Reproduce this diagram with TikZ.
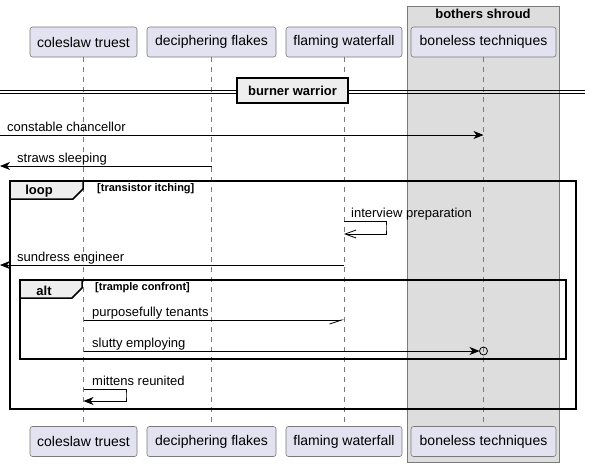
\documentclass[tikz,border=0pt]{standalone}
\usepackage{fontspec}
\setmainfont{Liberation Sans}
\usetikzlibrary{arrows.meta}
\definecolor{partfill}{HTML}{E2E2F0}
\definecolor{partline}{HTML}{7A7A7A}
\definecolor{shroudfill}{HTML}{DDDDDD}
\definecolor{tabfill}{HTML}{EEEEEE}

\begin{document}
\begin{tikzpicture}[x=1pt, y=-1pt,
    part/.style={draw=partline, line width=0.6pt, fill=partfill, rounded corners=2.5pt,
      minimum height=30pt, inner sep=0pt, font=\fontsize{14}{16}\selectfont},
    msg/.style={anchor=base west, inner sep=0pt, font=\fontsize{13}{15}\selectfont},
    grp/.style={anchor=base, inner sep=0pt, font=\bfseries\fontsize{13}{15}\selectfont},
    guard/.style={anchor=base west, inner sep=0pt, font=\bfseries\fontsize{11}{13}\selectfont},
    lifeline/.style={draw=partline, line width=0.6pt, dash pattern=on 5pt off 5pt},
    frame/.style={line width=1.5pt},
    rule/.style={line width=0.9pt},
    call/.style={line width=0.8pt, -{Stealth[length=10pt, width=8pt, inset=3pt]}},
    async/.style={line width=0.8pt, -{Straight Barb[length=11pt, width=8pt]}},
    halfcall/.style={line width=0.8pt, -{Straight Barb[right, length=12pt, width=8pt]}}]
  \useasboundingbox (0,0) rectangle (591,467);
%  \draw [help lines, opacity=0.5, step=50] (0,0) grid (591,467);

  % box round the last participant
  \draw [draw=partline, line width=0.8pt, fill=shroudfill] (407,6) rectangle (559,462);
  \node [grp] (shroud) at (483,18) {bothers shroud};

  % participants, top and bottom
  \node [part, minimum width=107pt] (ct) at (83.5,42) {coleslaw truest};
  \node [part, minimum width=129pt] (df) at (211.5,42) {deciphering flakes};
  \node [part, minimum width=116pt] (fw) at (344,42) {flaming waterfall};
  \node [part, minimum width=145pt] (bt) at (483.5,42) {boneless techniques};
  \node [part, minimum width=107pt] (ctb) at (83.5,441.5) {coleslaw truest};
  \node [part, minimum width=129pt] (dfb) at (211.5,441.5) {deciphering flakes};
  \node [part, minimum width=116pt] (fwb) at (344,441.5) {flaming waterfall};
  \node [part, minimum width=145pt] (btb) at (483.5,441.5) {boneless techniques};
  \foreach \p in {ct, df, fw, bt}
    \draw [lifeline] (\p.south) -- (\p b.north);

  % groups
  \draw [frame] (10,181) rectangle (576,409);
  \draw [frame, fill=tabfill] (10,181) -- (83,181) -- (83,189) -- (73,199) -- (10,199) -- cycle;
  \node [grp] (loop) at (39,194) {loop};
  \node [guard] (loopg) at (97,191) {[transistor itching]};
  \draw [frame] (20,280) rectangle (566,359);
  \draw [frame, fill=tabfill] (20,280) -- (82,280) -- (82,288) -- (72,298) -- (20,298) -- cycle;
  \node [grp] (alt) at (44,295) {alt};
  \node [guard] (altg) at (95,290) {[trample confront]};

  % divider
  \node [draw, line width=1.5pt, fill=tabfill, minimum width=111pt, minimum height=25pt,
    inner sep=0pt, font=\bfseries\fontsize{13}{15}\selectfont] (burner) at (292.5,90.5) {burner warrior};
  \foreach \y in {90, 93} {
    \coordinate (dvl) at (0,\y);
    \coordinate (dvr) at (585,\y);
    \draw [rule] (dvl) -- (dvl -| burner.west);
    \draw [rule] (dvr -| burner.east) -- (dvr);
  }

  % messages
  \coordinate (cc) at (0,135);
  \draw [call] (cc) -- (bt |- cc);
  \node [msg] (ccl) at (7,131) {constable chancellor};

  \coordinate (ss) at (0,166);
  \draw [call] (df |- ss) -- (ss);
  \node [msg] (ssl) at (17,162) {straws sleeping};

  \coordinate (ip) at (386,227.5);
  \draw [async] (fw |- 0,221) -| (ip) |- (fw |- 0,234);
  \node [msg] (ipl) at (351,217) {interview preparation};

  \coordinate (se) at (0,265);
  \draw [call] (fw |- se) -- (se);
  \node [msg] (sel) at (17,261) {sundress engineer};

  \draw [halfcall] (ct |- 0,320) -- (fw |- 0,320);
  \node [msg] (ptl) at (92,316) {purposefully tenants};

  \draw [line width=0.8pt] (bt |- 0,351) circle (4);
  \draw [call] (ct |- 0,351) -- ([xshift=-4pt]bt |- 0,351);
  \node [msg] (sel2) at (92,347) {slutty employing};

  \coordinate (mr) at (126,395);
  \draw [call] (ct |- 0,389) -| (mr) |- (ct |- 0,401);
  \node [msg] (mrl) at (92,385) {mittens reunited};
\end{tikzpicture}
\end{document}
